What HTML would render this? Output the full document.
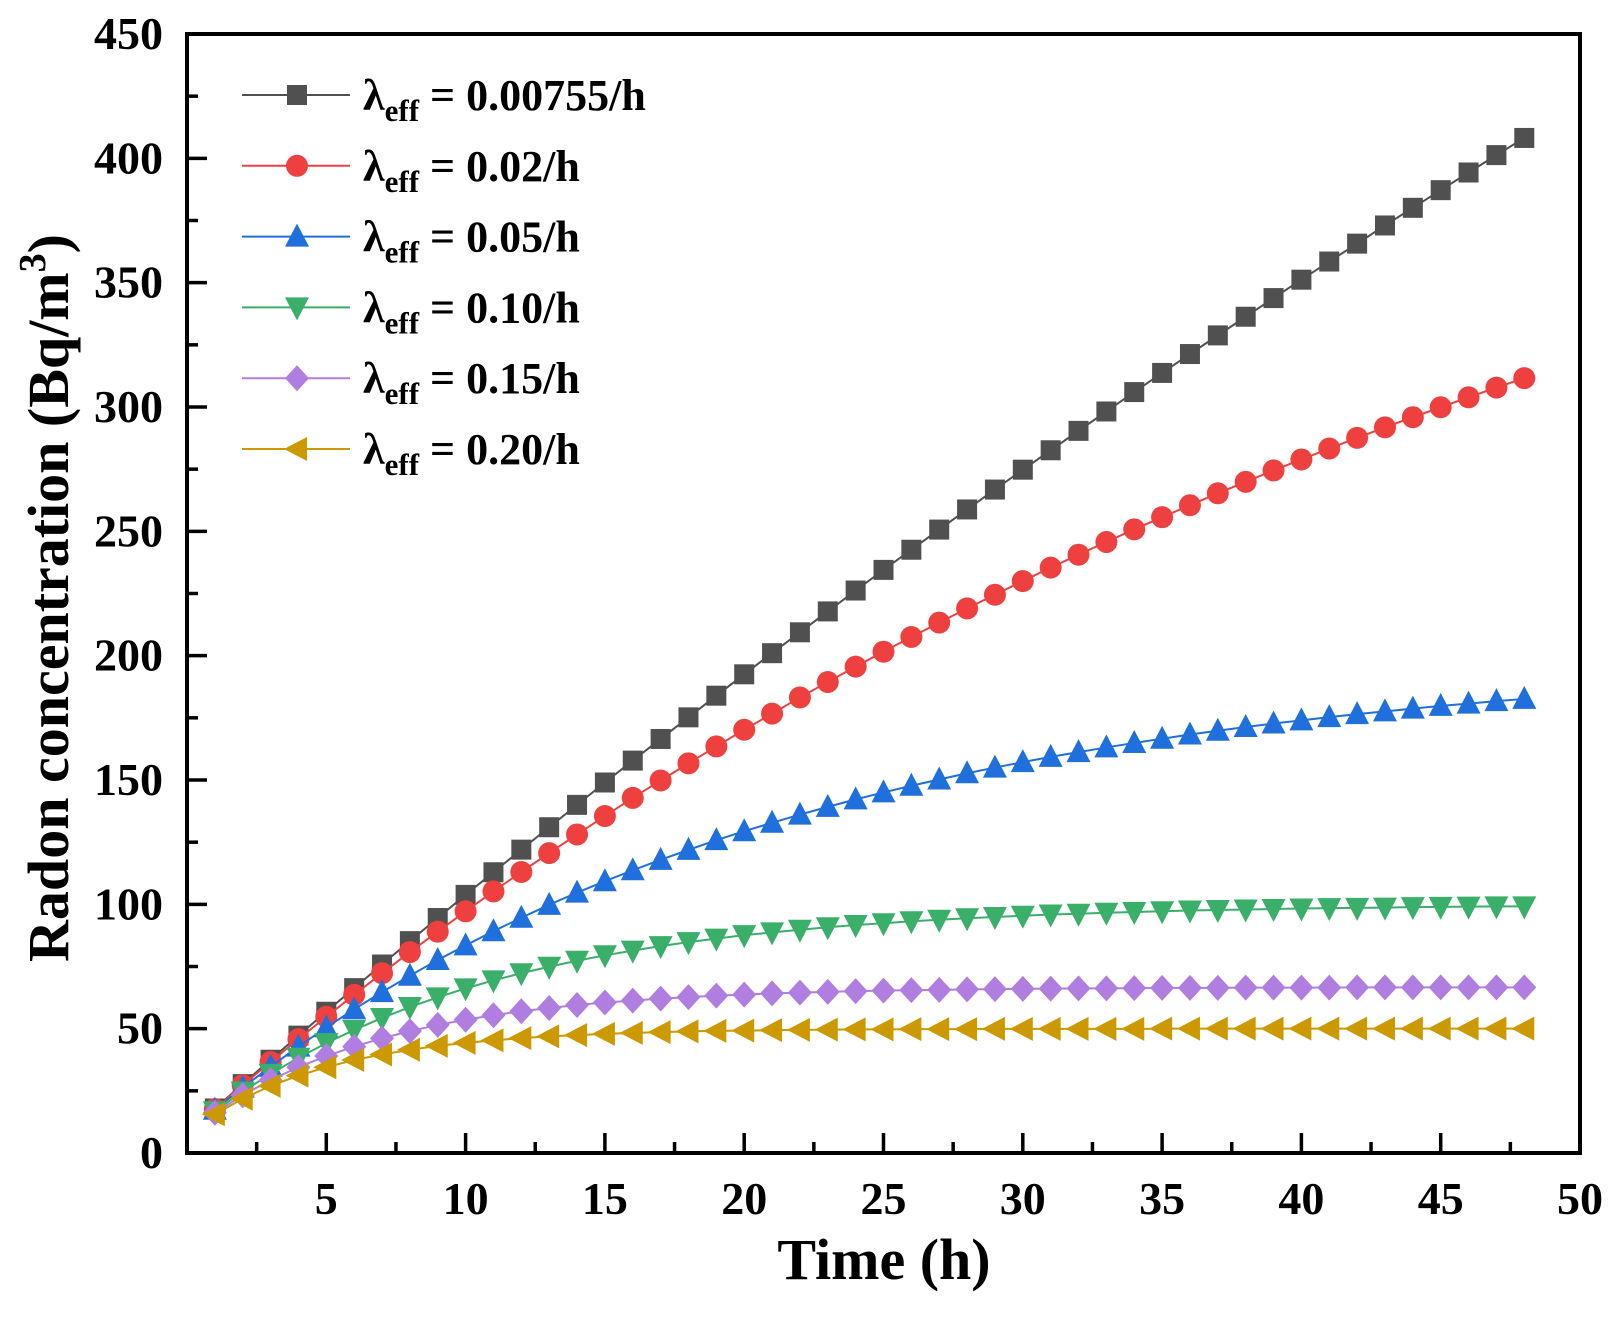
<!DOCTYPE html>
<html><head><meta charset="utf-8"><style>
html,body{margin:0;padding:0;background:#fff;}
svg{display:block;font-family:"Liberation Serif",serif;font-weight:bold;}
</style></head><body>
<svg id="chart" width="1615" height="1320" viewBox="0 0 1615 1320" xmlns="http://www.w3.org/2000/svg">
<rect width="1615" height="1320" fill="#fff"/>
<g id="series"></g>
<g id="axes"></g>
<g id="legend"></g>
<text x="884" y="1279" font-size="58" text-anchor="middle">Time (h)</text>
<text transform="translate(68,598) rotate(-90)" font-size="58" text-anchor="middle">Radon concentration (Bq/m<tspan dy="-23" font-size="38">3</tspan><tspan dy="23">)</tspan></text>
</svg>
<script>
const times = Array.from({length:48},(_, i)=>i+1);
const seriesNames = ["0.00755/h","0.02/h","0.05/h","0.10/h","0.15/h","0.20/h"];
const s1 = [17.9,27.7,37.5,47.2,56.8,66.3,75.8,85.2,94.5,103.8,112.9,122.0,131.0,140.0,149.0,157.8,166.5,175.2,183.9,192.5,201.0,209.4,217.8,226.2,234.5,242.6,250.7,258.8,266.8,274.8,282.6,290.4,298.2,306.0,313.7,321.3,328.8,336.3,343.8,351.2,358.5,365.7,373.0,380.1,387.2,394.3,401.3,408.2];
const s2 = [17.7,27.3,36.6,45.8,54.8,63.6,72.3,80.8,89.0,97.2,105.2,113.0,120.6,128.1,135.5,142.8,149.8,156.7,163.5,170.2,176.7,183.2,189.4,195.6,201.6,207.5,213.3,219.0,224.5,230.0,235.4,240.6,245.7,250.8,255.7,260.5,265.3,269.9,274.5,278.9,283.3,287.6,291.8,295.9,299.9,303.9,307.8,311.6];
const s3 = [17.4,26.3,34.7,42.8,50.5,57.8,64.7,71.3,77.6,83.5,89.2,94.6,99.8,104.7,109.3,113.7,117.9,121.9,125.8,129.4,132.8,136.1,139.2,142.2,145.0,147.7,150.2,152.7,155.0,157.2,159.3,161.2,163.1,164.9,166.6,168.3,169.8,171.3,172.7,174.0,175.3,176.5,177.6,178.7,179.8,180.7,181.7,182.6];
const s4 = [16.8,24.7,31.8,38.3,44.2,49.5,54.3,58.7,62.6,66.2,69.4,72.3,74.9,77.3,79.5,81.4,83.2,84.8,86.2,87.6,88.7,89.8,90.8,91.7,92.4,93.2,93.8,94.4,94.9,95.4,95.9,96.2,96.6,96.9,97.2,97.5,97.7,97.9,98.1,98.3,98.5,98.6,98.7,98.9,99.0,99.1,99.2,99.2];
const s5 = [16.2,23.2,29.3,34.5,39.0,42.8,46.1,49.0,51.5,53.6,55.4,57.0,58.3,59.5,60.5,61.3,62.1,62.7,63.3,63.7,64.2,64.5,64.8,65.1,65.3,65.5,65.6,65.8,65.9,66.0,66.1,66.2,66.2,66.3,66.4,66.4,66.4,66.5,66.5,66.5,66.5,66.6,66.6,66.6,66.6,66.6,66.6,66.6];
const s6 = [15.6,21.8,27.0,31.1,34.5,37.4,39.6,41.5,43.1,44.3,45.3,46.2,46.9,47.4,47.9,48.3,48.6,48.9,49.1,49.2,49.4,49.5,49.6,49.7,49.7,49.8,49.8,49.8,49.9,49.9,49.9,49.9,49.9,49.9,50.0,50.0,50.0,50.0,50.0,50.0,50.0,50.0,50.0,50.0,50.0,50.0,50.0,50.0];
const yTicks = [0,50,100,150,200,250,300,350,400,450];
const xTicks = [5,10,15,20,25,30,35,40,45,50];

const NS="http://www.w3.org/2000/svg";
const L=187,R=1580,T=34,B=1153;
const xs=v=>L+(v-0)/(50-0)*(R-L);
const ys=v=>B-(v-0)/(450-0)*(B-T);
function mk(tag,attrs,parent){const e=document.createElementNS(NS,tag);for(const k in attrs)e.setAttribute(k,attrs[k]);parent.appendChild(e);return e;}
const colors=["#505050","#ef4040","#1f6fdc","#3aaf6a","#b07ee0","#cc9900"];
const allData=[s1,s2,s3,s4,s5,s6];
const shapes=["square","circle","up","down","diamond","left"];
function marker(shape,cx,cy,col,parent){
  let e; const r=11;
  if(shape==="square") e=mk("rect",{x:cx-10,y:cy-10,width:20,height:20,fill:col},parent);
  else if(shape==="circle") e=mk("circle",{cx:cx,cy:cy,r:11,fill:col},parent);
  else { let p;
    if(shape==="up") p=[[cx,cy-r-2],[cx+r+1,cy+r-1],[cx-r-1,cy+r-1]];
    if(shape==="down") p=[[cx,cy+r+2],[cx+r+1,cy-r+1],[cx-r-1,cy-r+1]];
    if(shape==="diamond") p=[[cx,cy-r-2],[cx+r+1,cy],[cx,cy+r+2],[cx-r-1,cy]];
    if(shape==="left") p=[[cx-r-2,cy],[cx+r-1,cy-r-1],[cx+r-1,cy+r+1]];
    e=mk("polygon",{points:p.map(q=>q.join(",")).join(" "),fill:col},parent);
  }
  return e;
}
const sg=document.getElementById("series");
allData.forEach((d,si)=>{
  const g=mk("g",{},sg);
  
  
  const pl=mk("polyline",{points:d.map((v,i)=>xs(times[i])+","+ys(v)).join(" "),fill:"none",stroke:colors[si],"stroke-width":2},g);
  
  
  d.forEach((v,i)=>{
    const m=marker(shapes[si],xs(times[i]),ys(v),colors[si],g);
    
    
  });
});
const ag=document.getElementById("axes");
const frame=mk("rect",{x:L,y:T,width:R-L,height:B-T,fill:"none",stroke:"#000","stroke-width":4},ag);


yTicks.forEach(v=>{
  const t=mk("line",{x1:L,x2:L+20,y1:ys(v),y2:ys(v),stroke:"#000","stroke-width":3.5},ag);
  
  
  if(v<450){const m=mk("line",{x1:L,x2:L+11,y1:ys(v+25),y2:ys(v+25),stroke:"#000","stroke-width":3.5},ag);
  
  }
  const tx=mk("text",{x:163,y:ys(v)+15,"font-size":46,"text-anchor":"end"},ag);
  tx.textContent=v;
  
  
});
xTicks.forEach(v=>{
  const t=mk("line",{x1:xs(v),x2:xs(v),y1:B,y2:B-20,stroke:"#000","stroke-width":3.5},ag);
  
  
  const m=mk("line",{x1:xs(v-2.5),x2:xs(v-2.5),y1:B,y2:B-11,stroke:"#000","stroke-width":3.5},ag);
  
  
  const tx=mk("text",{x:xs(v),y:1214,"font-size":46,"text-anchor":"middle"},ag);
  tx.textContent=v;
  
  
});
const lg=document.getElementById("legend");
seriesNames.forEach((n,i)=>{
  const y=95+i*70.8;
  const g=mk("g",{},lg);
  
  
  mk("line",{x1:242,x2:350,y1:y,y2:y,stroke:colors[i],"stroke-width":2},g);
  marker(shapes[i],297,y,colors[i],g);
  const t=mk("text",{x:363,y:y+15,"font-size":44},g);
  t.innerHTML='λ<tspan dy="11" font-size="31">eff</tspan><tspan dy="-11"> = '+n+'</tspan>';
});
</script>
</body></html>
